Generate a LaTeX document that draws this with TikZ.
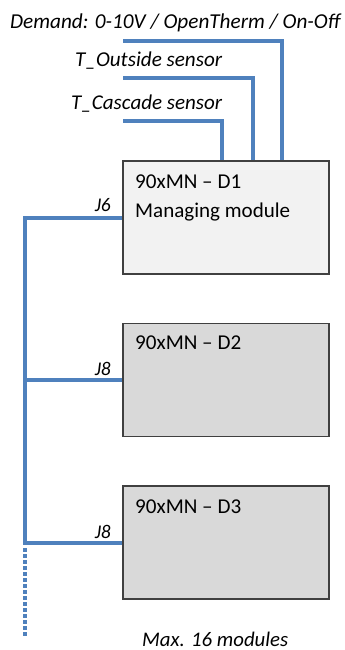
\documentclass[tikz,border=0pt]{standalone}
\usepackage{fontspec}
\usepackage{graphicx}
\setmainfont{Carlito}
\definecolor{wirec}{HTML}{4F81BD}
\definecolor{boxline}{HTML}{404040}
\definecolor{fillA}{HTML}{F2F2F2}
\definecolor{fillB}{HTML}{D9D9D9}
\newcommand{\fitit}[2]{\resizebox{#1}{!}{\itshape #2}}
\newcommand{\fitup}[2]{\resizebox{#1}{!}{#2}}
\begin{document}
\begin{tikzpicture}[x=1pt,y=-1pt,
  wire/.style={draw=wirec, line width=4pt},
  bus/.style={draw=wirec, line width=4pt},
  dotbus/.style={draw=wirec, line width=4pt, dash pattern=on 4pt off 2pt},
  box/.style={draw=boxline, line width=1.3pt, minimum width=206pt, minimum height=113pt, inner sep=0pt},
  lbl/.style={font=\fontsize{20}{24}\selectfont, inner sep=0pt, anchor=base west},
  txt/.style={font=\fontsize{20}{24}\selectfont, inner sep=0pt, anchor=base west},
  jlbl/.style={font=\fontsize{15}{18}\selectfont, inner sep=0pt, anchor=base east}]
\useasboundingbox (0,0) rectangle (345,650);
\node[box, fill=fillA] (d1) at (226,217.5) {};
\node[box, fill=fillB] (d2) at (226,380) {};
\node[box, fill=fillB] (d3) at (226,542.5) {};
\node[txt] (t1) at (135,188) {\fitup{106pt}{90xMN – D1}};
\node[txt] (t1b) at (135,217) {\fitup{155pt}{Managing module}};
\node[txt] (t2) at (135,349) {\fitup{106pt}{90xMN – D2}};
\node[txt] (t3) at (135,513) {\fitup{106pt}{90xMN – D3}};
% sensor lines
\node[lbl] (dem) at (10,29) {\fitit{330pt}{Demand: 0-10V / OpenTherm / On-Off}};
\node[lbl] (out) at (75,67) {\fitit{147pt}{T\_Outside sensor}};
\node[lbl] (cas) at (71,110) {\fitit{151pt}{T\_Cascade sensor}};
\coordinate (dL) at (123,41);
\coordinate (oL) at (123,78);
\coordinate (cL) at (123,121);
\draw[wire] (dL) -| (d1.north -| 282,0);
\draw[wire] (oL) -| (d1.north -| 253,0);
\draw[wire] (cL) -| (d1.north -| 222,0);
% bus
\coordinate (btop) at (25,217.5);
\coordinate (bend) at (25,545);
\coordinate (bdot) at (25,636);
\draw[bus] (d1.west) -- (btop) -- (bend);
\draw[bus] (d2.west) -- (d2.west -| btop);
\draw[bus] (d3.west) -- (d3.west -| btop);
\draw[dotbus] (bend) ++(0,3) -- (bdot);
\node[jlbl] (j6) at (111,211) {\fitit{16pt}{J6}};
\node[jlbl] (j8a) at (111,375) {\fitit{16pt}{J8}};
\node[jlbl] (j8b) at (111,538) {\fitit{16pt}{J8}};
\node[lbl] (max) at (142,646) {\fitit{146pt}{Max. 16 modules}};
\end{tikzpicture}
\end{document}
